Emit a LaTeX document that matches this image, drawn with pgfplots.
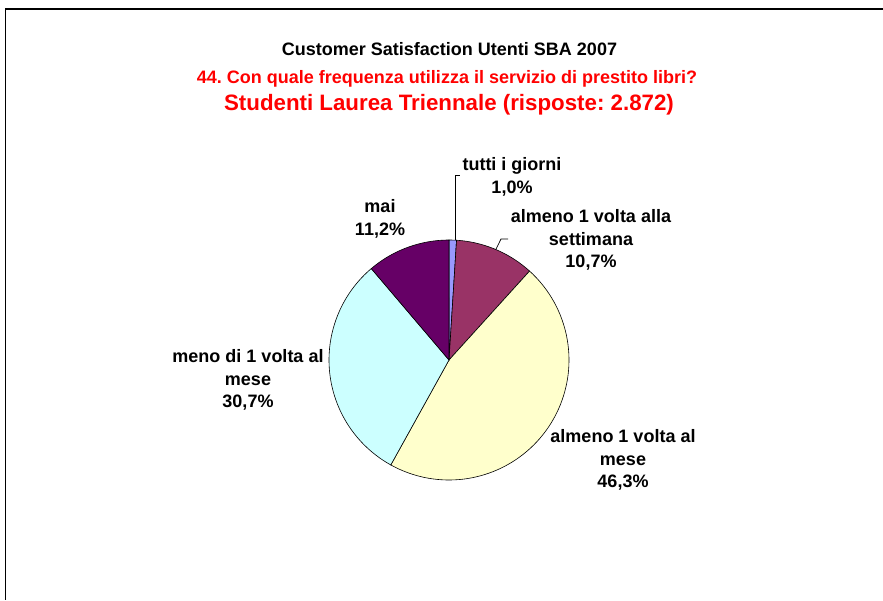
\documentclass[border=0pt]{standalone}
\usepackage{pgfplots}
\pgfplotsset{compat=1.18}
\usepackage{fontspec}
\setmainfont{Liberation Sans}
\frenchspacing
\definecolor{cTutti}{HTML}{9999FF}
\definecolor{cSett}{HTML}{993366}
\definecolor{cMese}{HTML}{FFFFCC}
\definecolor{cMeno}{HTML}{CCFFFF}
\definecolor{cMai}{HTML}{660066}
\definecolor{tred}{HTML}{FF0000}
% values (percent)
\def\vTutti{1.0}
\def\vSett{10.7}
\def\vMese{46.3}
\def\vMeno{30.7}
\def\vMai{11.2}
\pgfmathsetmacro\vTot{\vTutti+\vSett+\vMese+\vMeno+\vMai}
\pgfmathsetmacro\aA{90}
\pgfmathsetmacro\aB{\aA-(\vTutti/\vTot)*360}
\pgfmathsetmacro\aC{\aB-(\vSett/\vTot)*360}
\pgfmathsetmacro\aD{\aC-(\vMese/\vTot)*360}
\pgfmathsetmacro\aE{\aD-(\vMeno/\vTot)*360}
\pgfmathsetmacro\aF{\aE-(\vMai/\vTot)*360}
\newcommand\slice[3]{%
  \addplot[draw=black, line width=0.6pt, fill=#3, domain=#2:#1, samples=80, variable=\t]
    ({cos(\t)},{sin(\t)}) -- (0,0) -- cycle;}
\begin{document}
\begin{tikzpicture}[x=1pt,y=-1pt]
\useasboundingbox (0,0) rectangle (883,600);
\draw[line width=1.3pt] (883,9) -- (5.5,9) -- (5.5,600);
\begin{axis}[at={(449pt,-360pt)}, anchor=center, hide axis, scale only axis,
  width=252pt, height=252pt, xmin=-1.05, xmax=1.05, ymin=-1.05, ymax=1.05, clip=false]
\slice{\aA}{\aB}{cTutti}
\slice{\aB}{\aC}{cSett}
\slice{\aC}{\aD}{cMese}
\slice{\aD}{\aE}{cMeno}
\slice{\aE}{\aF}{cMai}
\draw[line width=0.7pt] (0.05,0.9987) -- (0.05,1.542) -- (0.092,1.542);
\draw[line width=0.7pt] (0.39,0.92) -- (0.433,1.008) -- (0.492,1.008);
\end{axis}
\begin{scope}[every node/.style={font=\bfseries\fontsize{18}{22.5}\selectfont, align=center, inner sep=0pt}]
\node[anchor=base] at (449.5,55) {Customer Satisfaction Utenti SBA 2007};
\node[anchor=base, text=tred] at (447,83) {44. Con quale frequenza utilizza il servizio di prestito libri?};
\node[anchor=base, text=tred, font=\bfseries\fontsize{22.3}{26}\selectfont] at (449,110) {Studenti Laurea Triennale (risposte: 2.872)};
\node at (512,177) {tutti i giorni\\1,0\%};
\node at (591,240) {almeno 1 volta alla\\settimana\\10,7\%};
\node at (380,219) {mai\\11,2\%};
\node at (248,380) {meno di 1 volta al\\mese\\30,7\%};
\node at (623,460) {almeno 1 volta al\\mese\\46,3\%};
\end{scope}
\end{tikzpicture}
\end{document}
